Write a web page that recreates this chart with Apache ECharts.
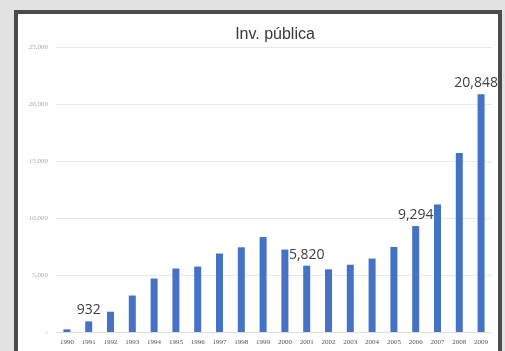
<!DOCTYPE html>
<html>
<head>
<meta charset="utf-8">
<script src="https://cdn.jsdelivr.net/npm/echarts@6/dist/echarts.min.js"></script>
<style>
  html, body { margin:0; padding:0; background:#e2e2e2; }
  #frame { position:absolute; left:14px; top:10px; width:480px; height:350px;
           border:4px solid #4b4b4b; background:#fff; }
  #chart { position:absolute; left:0; top:0; width:505px; height:351px; }
</style>
</head>
<body>
<div id="frame"></div>
<div id="chart"></div>
<script>
// años
var years = ['1990','1991','1992','1993','1994','1995','1996','1997','1998','1999',
             '2000','2001','2002','2003','2004','2005','2006','2007','2008','2009'];
// inversión pública
var inversion = [230, 932, 1780, 3200, 4690, 5570, 5740, 6880, 7430, 8330,
                 7230, 5820, 5500, 5900, 6440, 7460, 9294, 11190, 15710, 20848];
// años con etiqueta
var labeled = ['1991', '2001', '2006', '2009'];

var chart = echarts.init(document.getElementById('chart'));

var option = {
  animation: false,
  title: {
    text: 'Inv. pública',
    left: 270,
    top: 22,
    textAlign: 'center',
    textStyle: { fontFamily: 'Liberation Sans', fontWeight: 'normal', fontSize: 16, color: '#3a3a3a' }
  },
  grid: { left: 56, right: 13, top: 47, bottom: 19 },
  xAxis: {
    type: 'category',
    data: years,
    axisLine: { show: true, lineStyle: { color: '#e0e0e0' } },
    axisTick: { show: false },
    axisLabel: { fontFamily: 'Liberation Serif', fontSize: 7, color: '#555', margin: 7, interval: 0 }
  },
  yAxis: {
    type: 'value',
    min: 0,
    max: 25000,
    interval: 5000,
    axisLine: { show: false },
    axisTick: { show: false },
    splitLine: { lineStyle: { color: '#e8e8e8' } },
    axisLabel: {
      fontFamily: 'Liberation Serif', fontSize: 7, color: '#aaa', margin: 8,
      formatter: function (v) { return v === 0 ? '-' : v.toLocaleString('en-US'); }
    }
  },
  series: [{
    type: 'bar',
    data: inversion.map(function (v, i) {
      var item = { value: v };
      if (labeled.indexOf(years[i]) >= 0) {
        item.label = { show: true };
        if (i === years.length - 1) item.label.offset = [-5, 0];
      }
      return item;
    }),
    barWidth: 7,
    itemStyle: { color: '#4472c4' },
    label: {
      show: false,
      position: 'top',
      distance: 4,
      fontFamily: 'Open Sans',
      fontSize: 14,
      color: '#404040',
      formatter: function (p) { return p.value.toLocaleString('en-US'); }
    }
  }]
};
chart.setOption(option);
</script>
</body>
</html>
